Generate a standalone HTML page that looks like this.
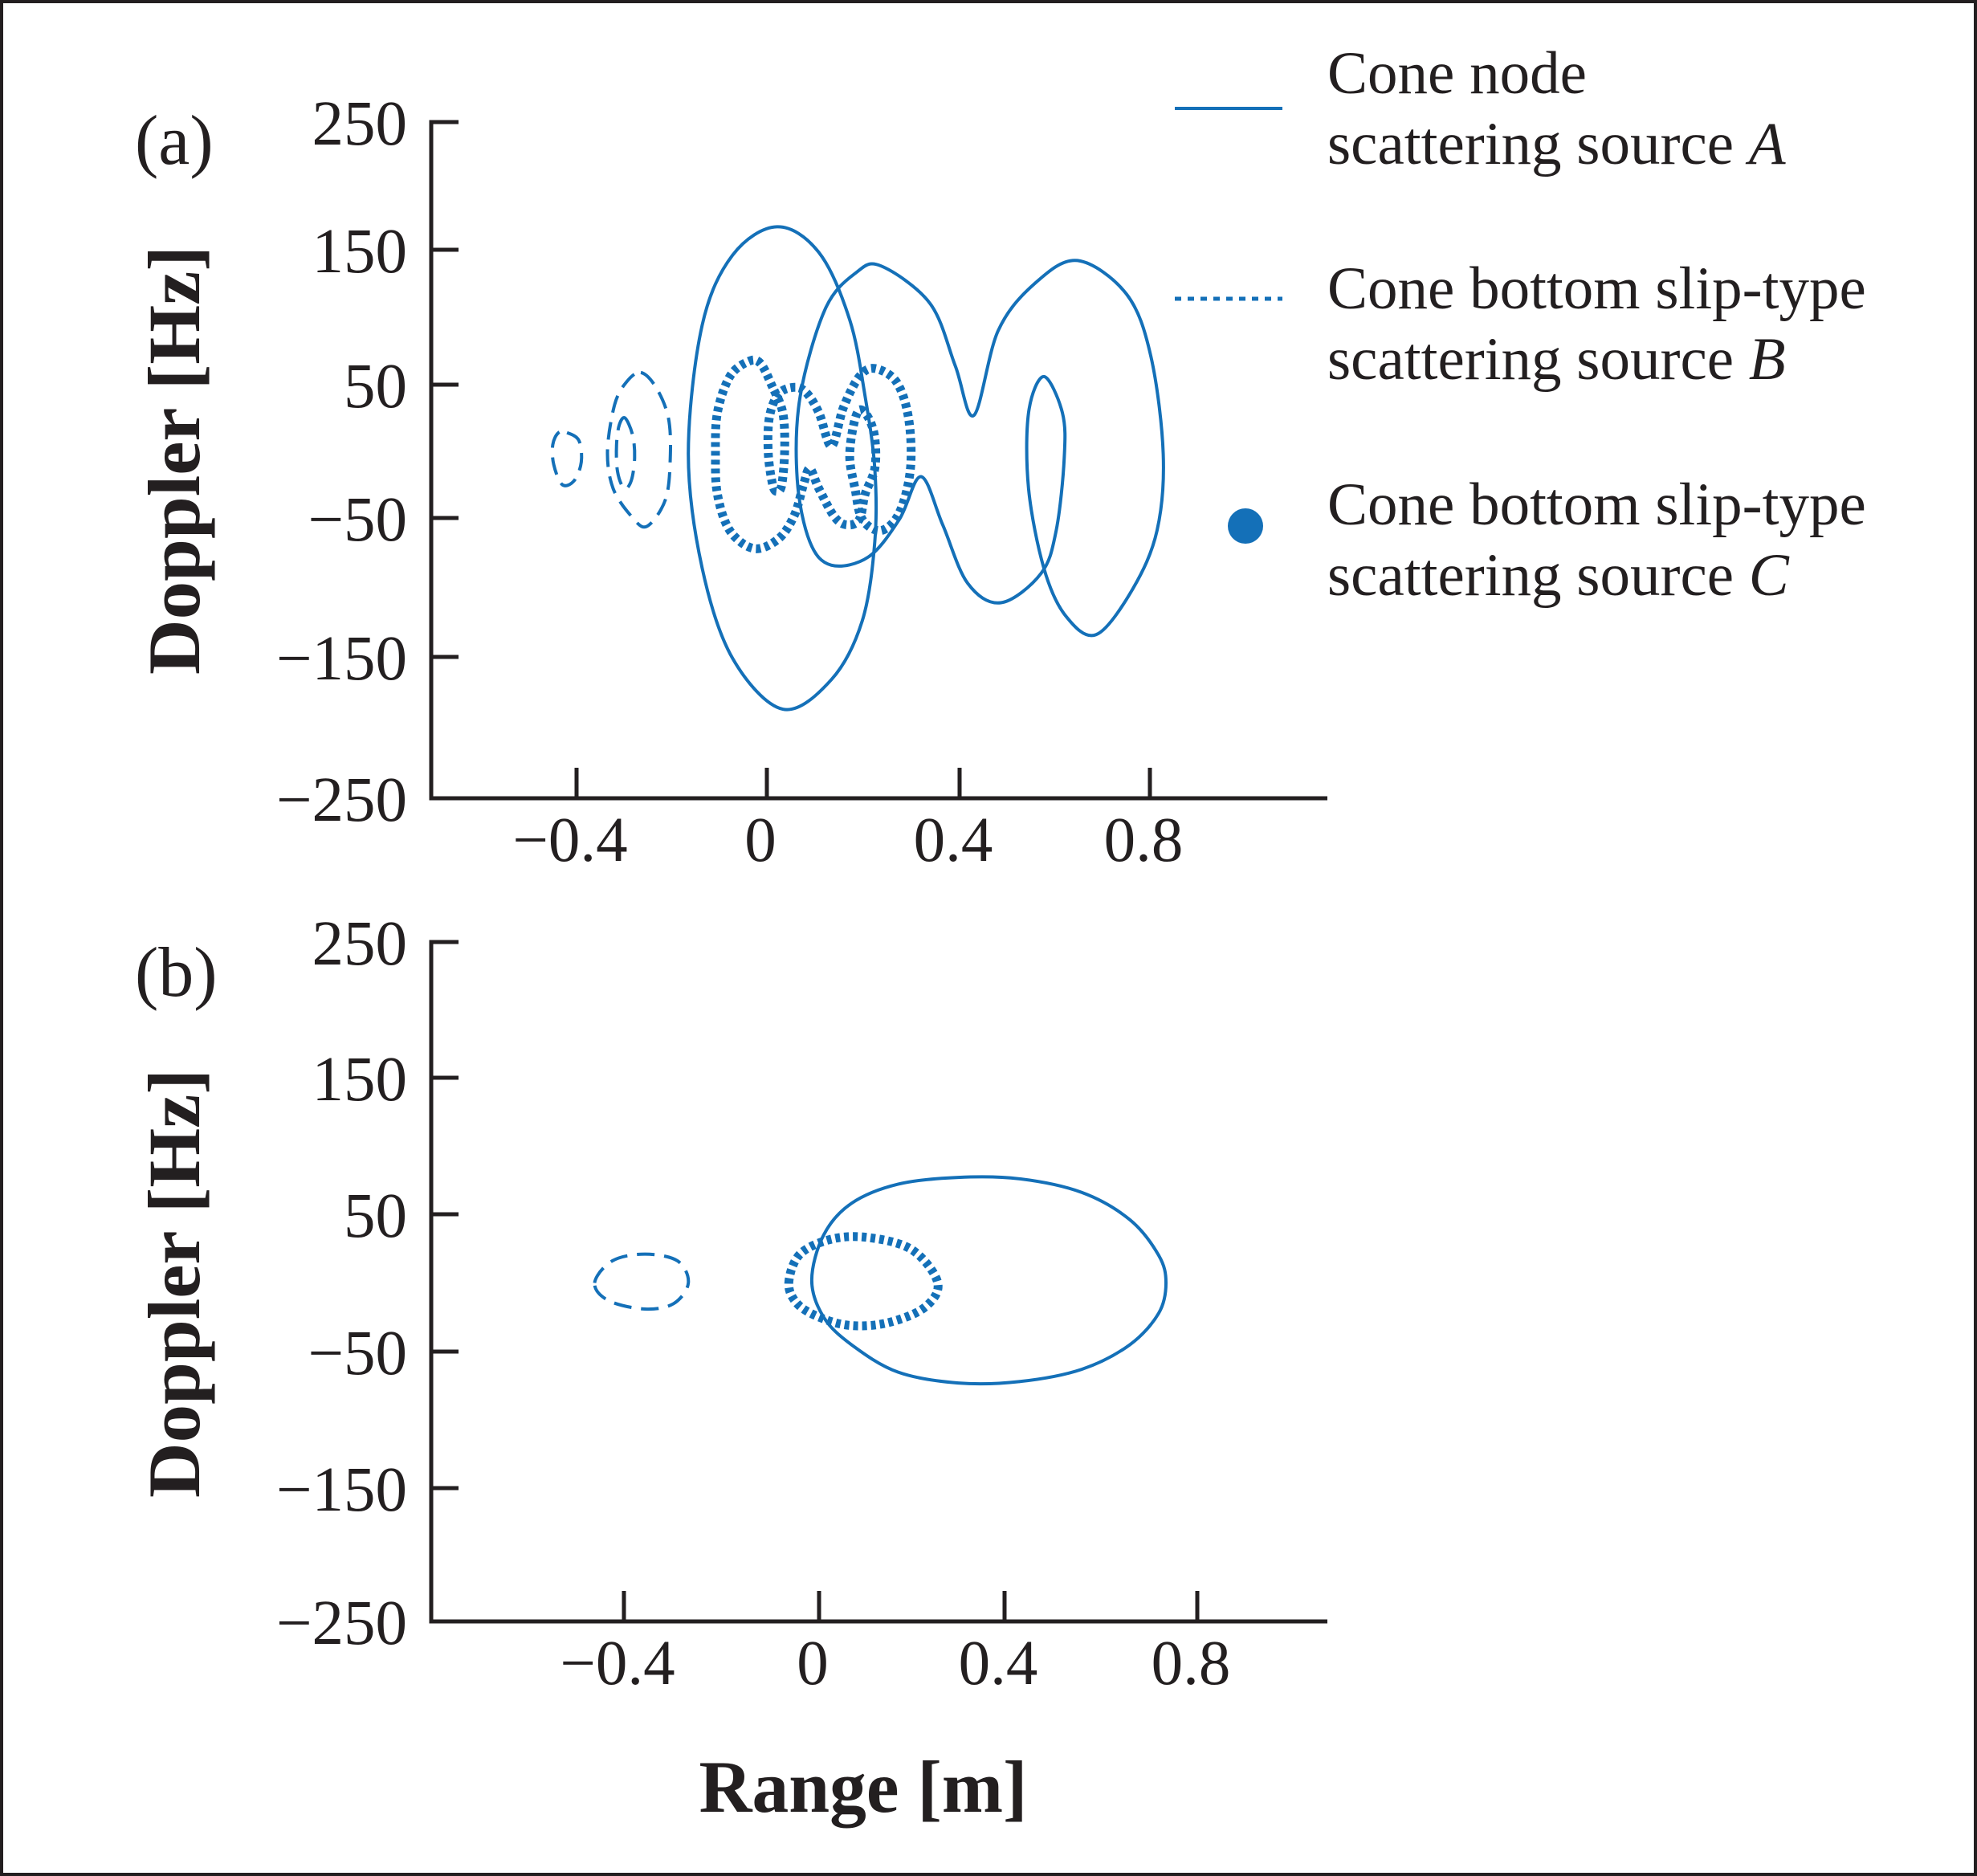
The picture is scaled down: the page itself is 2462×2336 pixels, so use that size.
<!DOCTYPE html>
<html><head><meta charset="utf-8">
<style>
html,body{margin:0;padding:0;background:#fff}
svg{display:block}
text{font-family:"Liberation Serif",serif;fill:#231f20}
</style></head>
<body>
<svg id="chart" width="2462" height="2336" viewBox="0 0 2462 2336" xmlns="http://www.w3.org/2000/svg">
<rect x="2" y="2" width="2458" height="2332" fill="#fff" stroke="#231f20" stroke-width="4"/>
<g id="plots"></g>
<g>
<line x1="1463" y1="135" x2="1597" y2="135" stroke="#1470b8" stroke-width="4"/>
<text x="1653" y="116" font-size="75">Cone node</text>
<text x="1653" y="204" font-size="75">scattering source <tspan font-style="italic">A</tspan></text>
<line x1="1463" y1="372" x2="1597" y2="372" stroke="#1470b8" stroke-width="5" stroke-dasharray="8 8"/>
<text x="1653" y="384" font-size="75">Cone bottom slip-type</text>
<text x="1653" y="472" font-size="75">scattering source <tspan font-style="italic">B</tspan></text>
<circle cx="1551" cy="655" r="22" fill="#1470b8"/>
<text x="1653" y="653" font-size="75">Cone bottom slip-type</text>
<text x="1653" y="741" font-size="75">scattering source <tspan font-style="italic">C</tspan></text>
</g>
<text x="168" y="204" font-size="88">(a)</text>
<text x="168" y="1240" font-size="88">(b)</text>
<text transform="translate(248,573) rotate(-90)" text-anchor="middle" font-size="92" font-weight="bold" textLength="534" lengthAdjust="spacingAndGlyphs">Doppler [Hz]</text>
<text transform="translate(248,1598) rotate(-90)" text-anchor="middle" font-size="92" font-weight="bold" textLength="534" lengthAdjust="spacingAndGlyphs">Doppler [Hz]</text>
<text x="1075" y="2256" text-anchor="middle" font-size="92" font-weight="bold" textLength="409" lengthAdjust="spacingAndGlyphs">Range [m]</text>
</svg>
<script>
// ---- data ----
const yTickValues = [250, 150, 50, -50, -150, -250];
const yTickLabels = ["250", "150", "50", "\u221250", "\u2212150", "\u2212250"];
const xTickValues = [-0.4, 0, 0.4, 0.8];
const xTickLabels = ["\u22120.4", "0", "0.4", "0.8"];

// panel (a): [range m, doppler Hz]
const aSolidLoop1 = [[0.033,-187],[-0.072,-151],[-0.136,-86],[-0.165,-2],[-0.136,94],[-0.072,146],[0.021,168],[0.108,148],[0.172,98],[0.204,41],[0.224,-13],[0.224,-67],[0.198,-124],[0.134,-166]];
const aSolidLoop2 = [[0.237,138],[0.339,110],[0.391,64],[0.430,27],[0.481,90],[0.558,125],[0.648,142],[0.751,117],[0.802,71],[0.828,-2],[0.815,-59],[0.764,-101],[0.687,-134],[0.622,-120],[0.577,-86],[0.545,-28],[0.545,29],[0.577,56],[0.616,29],[0.620,-5],[0.603,-59],[0.571,-90],[0.487,-111],[0.417,-97],[0.365,-55],[0.320,-19],[0.275,-51],[0.211,-78],[0.134,-84],[0.089,-67],[0.063,-21],[0.069,41],[0.121,106],[0.185,133]];
const aDotted = [[0.012,48],[-0.014,66],[-0.040,67],[-0.078,56],[-0.104,29],[-0.108,-2],[-0.104,-32],[-0.078,-59],[-0.027,-72],[0.024,-65],[0.057,-48],[0.076,-25],[0.089,-13],[0.108,-28],[0.140,-49],[0.166,-55],[0.192,-51],[0.204,-32],[0.224,-13],[0.224,10],[0.211,25],[0.192,31],[0.179,18],[0.172,-5],[0.183,-28],[0.198,-51],[0.237,-59],[0.275,-46],[0.298,-13],[0.294,25],[0.269,52],[0.224,62],[0.192,56],[0.159,33],[0.134,4],[0.108,29],[0.082,44],[0.057,48],[0.024,43],[0.005,25],[0.003,-2],[0.012,-25],[0.021,-30],[0.031,-25],[0.037,2],[0.033,29]];
const aDashedOuter = [[-0.265,59],[-0.233,48],[-0.207,25],[-0.203,-5],[-0.213,-36],[-0.252,-56],[-0.284,-49],[-0.323,-28],[-0.335,0],[-0.320,35],[-0.295,52]];
const aDashedMid = [[-0.298,25],[-0.282,12],[-0.278,-5],[-0.285,-22],[-0.300,-28],[-0.314,-15],[-0.316,5],[-0.310,20]];
const aDashedInner = [[-0.420,14],[-0.395,8],[-0.390,-8],[-0.405,-22],[-0.430,-25],[-0.448,-10],[-0.450,5],[-0.438,14]];

// panel (b)
const bSolid = [[-0.015,2],[0.01,35],[0.07,58],[0.17,72],[0.30,77],[0.43,76],[0.56,66],[0.66,46],[0.72,20],[0.735,0],[0.72,-22],[0.66,-45],[0.56,-63],[0.43,-72],[0.30,-73],[0.17,-65],[0.07,-45],[0.01,-25]];
const bDotted = [[-0.062,0],[-0.039,21],[0.028,32],[0.108,33],[0.201,24],[0.256,0],[0.227,-18],[0.148,-29],[0.068,-31],[0.001,-25],[-0.045,-15]];
const bDashed = [[-0.460,0],[-0.424,16],[-0.357,21],[-0.290,16],[-0.268,0],[-0.298,-15],[-0.357,-19],[-0.431,-13]];

// ---- axes ----
const NS = "http://www.w3.org/2000/svg";
const panels = [
  {id:"a", yPix:[152,311,479,645,818,994], xPix:[718,955,1195,1432], axisX:537, axisB:994,
   series:[{pts:aSolidLoop1,k:"solid",n:"series-a-loop-1"},{pts:aSolidLoop2,k:"solid",n:"series-a-loop-2"},{pts:aDotted,k:"dotted",n:"series-c-dotted"},{pts:aDashedOuter,k:"dashed",n:"series-b-dashed-outer"},{pts:aDashedMid,k:"dashed",n:"series-b-dashed-mid"},{pts:aDashedInner,k:"dashed",n:"series-b-dashed-inner"}], xLabY:1072},
  {id:"b", yPix:[1173,1342,1512,1683,1853,2019], xPix:[777,1020,1251,1491], axisX:537, axisB:2019,
   series:[{pts:bSolid,k:"solid",n:"series-a-ellipse"},{pts:bDotted,k:"dotted",n:"series-c-dotted"},{pts:bDashed,k:"dashed",n:"series-b-dashed"}], xLabY:2097}
];
function interp(v, vals, pix){
  for(let i=0;i<vals.length-1;i++){
    const a=vals[i], b=vals[i+1];
    if((v>=Math.min(a,b)&&v<=Math.max(a,b))||i===vals.length-2||(i===0&&((a<b&&v<a)||(a>b&&v>a)))){
      return pix[i]+(v-a)/(b-a)*(pix[i+1]-pix[i]);
    }
  }
  return pix[0];
}
function mk(tag, attrs){const e=document.createElementNS(NS,tag);for(const k in attrs)e.setAttribute(k,attrs[k]);return e;}
function smoothPath(p){
  const n=p.length;let d="M"+p[0][0].toFixed(1)+","+p[0][1].toFixed(1);
  for(let i=0;i<n;i++){
    const p0=p[(i-1+n)%n],p1=p[i],p2=p[(i+1)%n],p3=p[(i+2)%n];
    const c1=[p1[0]+(p2[0]-p0[0])/6,p1[1]+(p2[1]-p0[1])/6];
    const c2=[p2[0]-(p3[0]-p1[0])/6,p2[1]-(p3[1]-p1[1])/6];
    d+=" C"+c1[0].toFixed(1)+","+c1[1].toFixed(1)+" "+c2[0].toFixed(1)+","+c2[1].toFixed(1)+" "+p2[0].toFixed(1)+","+p2[1].toFixed(1);
  }
  return d+"Z";
}
const root=document.getElementById("plots");
panels.forEach(P=>{
  const g=mk("g",{});
  
  
  root.appendChild(g);
  const xs=v=>interp(v,xTickValues,P.xPix);
  const ys=v=>interp(v,yTickValues,P.yPix);
  const ax=mk("path",{d:"M"+(P.axisX+34)+","+ys(250)+" H"+P.axisX+" V"+P.axisB+" H1653",fill:"none",stroke:"#231f20","stroke-width":5});
  
  
  g.appendChild(ax);
  yTickValues.forEach((v,i)=>{
    const y=ys(v);
    if(i>0&&i<yTickValues.length-1){
      const t=mk("line",{x1:P.axisX,x2:P.axisX+34,y1:y,y2:y,stroke:"#231f20","stroke-width":5});
      
      
      g.appendChild(t);
    }
    const l=mk("text",{x:507,y:y+28,"text-anchor":"end","font-size":79});
    l.textContent=yTickLabels[i];
    
    
    g.appendChild(l);
  });
  xTickValues.forEach((v,i)=>{
    const x=xs(v);
    const t=mk("line",{x1:x,x2:x,y1:P.axisB,y2:P.axisB-38,stroke:"#231f20","stroke-width":5});
    
    
    g.appendChild(t);
    const l=mk("text",{x:x-8,y:P.xLabY,"text-anchor":"middle","font-size":79});
    l.textContent=xTickLabels[i];
    
    
    g.appendChild(l);
  });
  P.series.forEach(s=>{
    const pts=s.pts.map(q=>[xs(q[0]),ys(q[1])]);
    const st={fill:"none",stroke:"#1470b8"};
    if(s.k==="solid"){st["stroke-width"]=4;}
    else if(s.k==="dashed"){st["stroke-width"]=4;st["stroke-dasharray"]="22 12";}
    else {st["stroke-width"]=11;st["stroke-dasharray"]="6 5";}
    st.d=smoothPath(pts);
    const e=mk("path",st);
    
    
    g.appendChild(e);
  });
});
</script>
</body></html>
